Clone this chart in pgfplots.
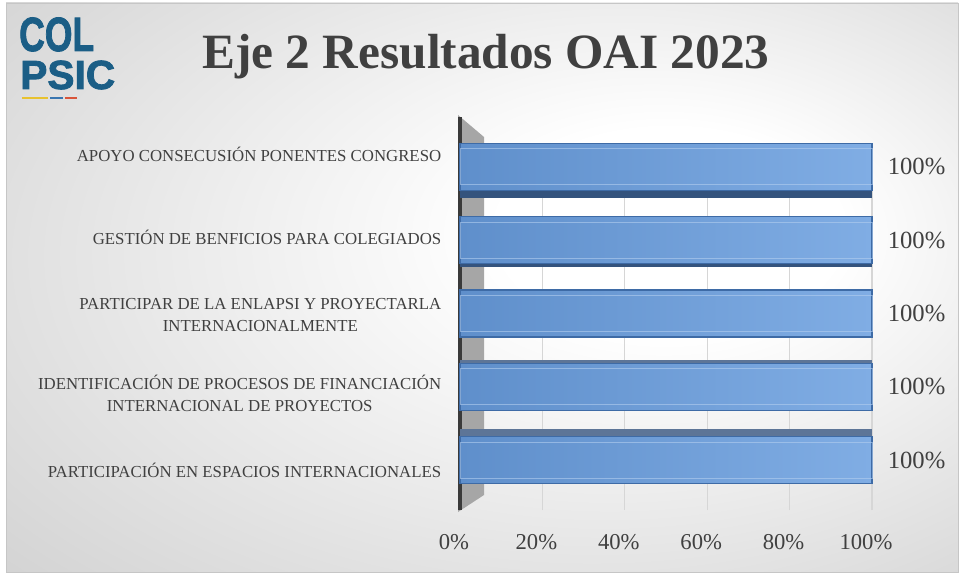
\documentclass[border=0pt]{standalone}
\usepackage{fontspec}
\setmainfont{Liberation Serif}
\newfontfamily\logofont[BoldFeatures={FakeBold=2}]{Liberation Sans}
\usepackage{pgfplots}
\pgfplotsset{compat=1.18}

\definecolor{txt}{HTML}{404040}
\definecolor{barL}{HTML}{5F8FCB}
\definecolor{barR}{HTML}{80ADE4}
\definecolor{barEdge}{HTML}{3E6BA6}
\definecolor{barDepth}{HTML}{34537D}
\definecolor{wall}{HTML}{A6A6A6}
\definecolor{wallEdge}{HTML}{3A3A3A}
\definecolor{bgGray}{HTML}{C0C0C0}
\definecolor{logoBlue}{HTML}{1B5E86}
\definecolor{flagY}{HTML}{E8C22F}
\definecolor{flagB}{HTML}{3A76B0}
\definecolor{flagR}{HTML}{D9553A}

\pgfdeclareradialshading{bgshade}{\pgfpoint{12bp}{6bp}}{%
  color(0bp)=(white); color(9bp)=(white); color(52bp)=(bgGray)}

\begin{document}
\begin{tikzpicture}
% background, logo and title in pixel units (origin top left)
\begin{scope}[x=0.75pt,y=-0.75pt]
  \path[use as bounding box] (0,0) rectangle (960,573);
  \fill[white] (0,0) rectangle (960,573);
  \shade[shading=bgshade, draw=gray!45, line width=0.5pt] (6,3) rectangle (958,572);
  % side wall of the 3d chart
  \fill[wall] (458,115) -- (484,137) -- (484,495) -- (458,512) -- cycle;
  % logo
  \node[anchor=base west, inner sep=0, xscale=0.74, text=logoBlue,
        font=\logofont\bfseries\fontsize{36}{36}\selectfont] at (19,51) {COL};
  \node[anchor=base west, inner sep=0, text=logoBlue,
        font=\logofont\bfseries\fontsize{30.5}{31}\selectfont] at (20,89) {PSIC};
  \draw[line width=1.6pt, flagY] (22,98) -- (48,98);
  \draw[line width=1.6pt, flagB] (50,98) -- (63,98);
  \draw[line width=1.6pt, flagR] (65,98) -- (77,98);
  % title
  \node[anchor=base, text=txt, font=\bfseries\fontsize{37}{40}\selectfont]
    at (486,69) {Eje 2 Resultados OAI 2023};
\end{scope}

\begin{axis}[
    at={(345pt,-382.5pt)}, anchor=south west,
    width=309pt, height=294.75pt, scale only axis,
    xmin=0, xmax=100,
    ymin=-0.68, ymax=4.68,
    axis lines*=left,
    x axis line style={draw=none},
    y axis line style={draw=wallEdge, line width=3pt, -},
    major tick length=0pt,
    xtick={0,20,...,100},
    xticklabels={0\%,20\%,40\%,60\%,80\%,100\%},
    xticklabel style={anchor=base, yshift=-29.25pt, xshift=-4.5pt,
        text=txt, font=\fontsize{17}{19}\selectfont},
    ytick={-0.137,0.915,1.98,3.044,4.164},
    yticklabels={
        {PARTICIPACIÓN EN ESPACIOS INTERNACIONALES},
        {IDENTIFICACIÓN DE PROCESOS DE FINANCIACIÓN\\INTERNACIONAL DE PROYECTOS},
        {PARTICIPAR DE LA ENLAPSI Y PROYECTARLA\\INTERNACIONALMENTE},
        {GESTIÓN DE BENFICIOS PARA COLEGIADOS},
        {APOYO CONSECUSIÓN PONENTES CONGRESO}},
    yticklabel style={anchor=east, align=center, xshift=-10.5pt,
        text=txt, font=\fontsize{12.6}{16.5}\selectfont},
    clip=false,
]
% back-wall grid lines, only below the top bar
\pgfplotsinvokeforeach{20,40,60,80,100}{
  \draw[gray!32, line width=1pt] (axis cs:#1,-0.68) -- (axis cs:#1,4);
}
% depth faces of the 3d bars (seen from below on top, from above at bottom)
\addplot[xbar, bar width=35.25pt, bar shift=-6pt, fill=barDepth, draw=none, forget plot]
    coordinates {(100,4)};
\addplot[xbar, bar width=35.25pt, bar shift=-2.25pt, fill=barDepth, draw=none, forget plot]
    coordinates {(100,3)};
\addplot[xbar, bar width=35.25pt, bar shift=2.25pt, fill=barDepth!80!white, draw=none, forget plot]
    coordinates {(100,1)};
\addplot[xbar, bar width=35.25pt, bar shift=6pt, fill=barDepth!80!white, draw=none, forget plot]
    coordinates {(100,0)};
% front faces
\addplot[xbar, bar width=35.25pt, bar shift=0pt,
    left color=barL, right color=barR, draw=barEdge, line width=1pt,
    point meta=x,
    nodes near coords={\pgfmathprintnumber[assume math mode=true]{\pgfplotspointmeta}\%},
    nodes near coords style={anchor=west, xshift=8pt, text=txt,
        font=\fontsize{18.5}{20}\selectfont},
] coordinates {(100,0) (100,1) (100,2) (100,3) (100,4)};
% bevel edge inside the front faces
\addplot[xbar, bar width=27pt, bar shift=0pt, fill=none,
    draw=barR!60!white, draw opacity=0.6, line width=0.6pt, forget plot]
    coordinates {(100,0) (100,1) (100,2) (100,3) (100,4)};
\end{axis}
\end{tikzpicture}
\end{document}
